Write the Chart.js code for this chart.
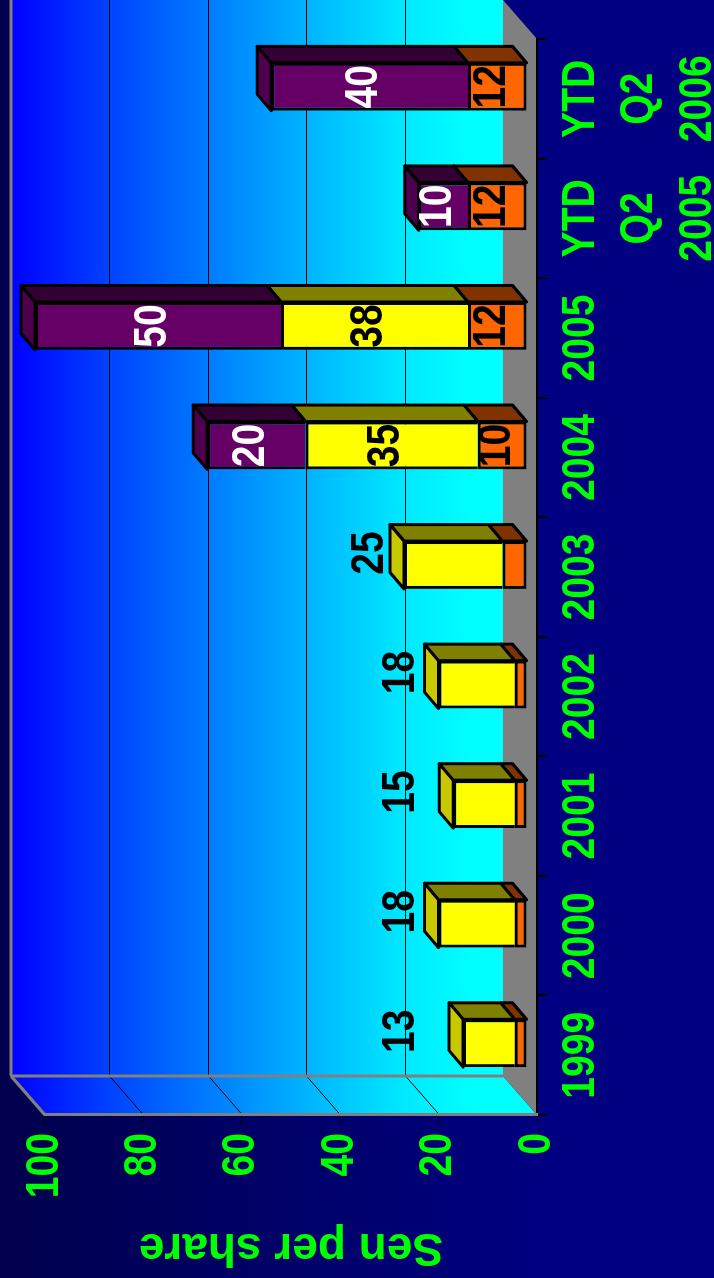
<!DOCTYPE html>
<html>
<head>
<meta charset="utf-8">
<script src="https://cdn.jsdelivr.net/npm/chart.js@4.4.1/dist/chart.umd.min.js"></script>
<style>
    html, body { margin: 0; padding: 0; overflow: hidden; }
    body { width: 714px; height: 1278px; background: #000070; position: relative; }
    /* the slide was turned on its side, so the chart is drawn flat and rotated */
    #chart {
        position: absolute; left: 0; top: 0;
        width: 1278px; height: 714px;
        transform-origin: 0 0;
        transform: translate(0, 1278px) rotate(-90deg);
    }
</style>
</head>
<body>
<canvas id="chart" width="1278" height="714"></canvas>
<script>
// Dividend, sen per share
const categories = ['1999', '2000', '2001', '2002', '2003', '2004', '2005',
    ['YTD', 'Q2', '2005'], ['YTD', 'Q2', '2006']];
const orangeValues = [2.5, 2.5, 2.5, 2.5, 5, 10, 12, 12, 12];
const yellowValues = [10.5, 15.5, 12.5, 15.5, 20, 35, 38, null, null];
const purpleValues = [null, null, null, null, null, 20, 50, 10, 40];
const yTicks = [0, 20, 40, 60, 80, 100];
const axisTitle = 'Sen per share';

// Totals of the early years sit above the bars, never lower than this value
const LABEL_FLOOR = 25;

const FONT = '"Liberation Sans", Arial, sans-serif';
// the slide used a condensed face for numbers; squeeze labels to match
const NARROW = 0.85;

// 3D look: offsets from the front plane
const DEPTH = { du: 39, dv: -34 };       // back wall
const BAR_OFF = { du: 12, dv: -10 };     // front face of the bars
const BAR_DEPTH = { du: 16.5, dv: -14 }; // bar thickness

// face colours: [front, right side, top]
const faceColors = [
    ['#FF6600', '#803300', '#B34700'],
    ['#FFFF00', '#808000', '#C8C800'],
    ['#660066', '#330033', '#4D004D']
];

function poly(ctx, pts, fill) {
    ctx.beginPath();
    ctx.moveTo(pts[0][0], pts[0][1]);
    for (let k = 1; k < pts.length; k++) ctx.lineTo(pts[k][0], pts[k][1]);
    ctx.closePath();
    if (fill) {
        ctx.fillStyle = fill;
        ctx.fill();
    }
}

function line(ctx, x1, y1, x2, y2) {
    ctx.beginPath();
    ctx.moveTo(x1, y1);
    ctx.lineTo(x2, y2);
    ctx.stroke();
}

// Background, walls and floor
const wallPlugin = {
    id: 'walls',
    beforeDraw(chart) {
        const { ctx, chartArea: a, scales } = chart;
        ctx.save();

        const bg = ctx.createLinearGradient(0, 0, 0, chart.height);
        bg.addColorStop(0, '#00004D');
        bg.addColorStop(0.75, '#000080');
        bg.addColorStop(1, '#000080');
        ctx.fillStyle = bg;
        ctx.fillRect(0, 0, chart.width, chart.height);

        const bL = a.left + DEPTH.du, bR = a.right + DEPTH.du;
        const bT = a.top + DEPTH.dv, bB = a.bottom + DEPTH.dv;

        const wg = ctx.createLinearGradient(0, bT, 0, bT + 460);
        wg.addColorStop(0, '#0000FF');
        wg.addColorStop(0.22, '#0044FF');
        wg.addColorStop(0.63, '#00B0FF');
        wg.addColorStop(0.85, '#00E8FF');
        wg.addColorStop(1, '#00FFFF');

        // back wall and side wall
        ctx.fillStyle = wg;
        ctx.fillRect(bL, bT, bR - bL, bB - bT);
        poly(ctx, [[a.left, a.top], [bL, bT], [bL, bB], [a.left, a.bottom]], wg);
        // floor
        poly(ctx, [[a.left, a.bottom], [bL, bB], [bR, bB], [a.right, a.bottom]], '#808080');

        // gridlines on both walls
        ctx.strokeStyle = '#000000';
        ctx.lineWidth = 1;
        yTicks.forEach(t => {
            if (t === 0 || t === 100) return;
            const v = Math.round(scales.y.getPixelForValue(t)) + 0.5;
            line(ctx, a.left, v, bL, v + DEPTH.dv);
            line(ctx, bL, v + DEPTH.dv, bR, v + DEPTH.dv);
        });

        // wall edges
        ctx.strokeStyle = '#808080';
        ctx.lineWidth = 3;
        line(ctx, bL, bT, bR + 5, bT);
        line(ctx, bL, bT, bL, bB);
        line(ctx, a.left, a.top, bL, bT);
        ctx.restore();
    }
};

// Side and top faces of the bars; bars are pushed back into the box
const barFacePlugin = {
    id: 'barFaces',
    beforeDatasetsDraw(chart) {
        const ctx = chart.ctx;
        ctx.save();
        ctx.translate(BAR_OFF.du, BAR_OFF.dv);
        ctx.strokeStyle = '#000000';
        ctx.lineWidth = 3;
        ctx.lineJoin = 'round';
        categories.forEach((c, i) => {
            let top = null;
            chart.data.datasets.forEach((ds, d) => {
                if (ds.data[i] == null) return;
                const bar = chart.getDatasetMeta(d).data[i];
                const { x, y, base, width } = bar.getProps(['x', 'y', 'base', 'width'], true);
                const r = x + width / 2;
                poly(ctx, [[r, y], [r + BAR_DEPTH.du, y + BAR_DEPTH.dv],
                    [r + BAR_DEPTH.du, base + BAR_DEPTH.dv], [r, base]], faceColors[d][1]);
                ctx.stroke();
                top = { d, x, y, width };
            });
            if (top) {
                const l = top.x - top.width / 2, r = top.x + top.width / 2;
                poly(ctx, [[l, top.y], [l + BAR_DEPTH.du, top.y + BAR_DEPTH.dv],
                    [r + BAR_DEPTH.du, top.y + BAR_DEPTH.dv], [r, top.y]], faceColors[top.d][2]);
                ctx.stroke();
            }
        });
    },
    afterDatasetsDraw(chart) {
        const ctx = chart.ctx;
        ctx.restore();

        // value labels
        ctx.save();
        ctx.font = 'bold 46px ' + FONT;
        ctx.textAlign = 'center';
        const floorV = chart.scales.y.getPixelForValue(LABEL_FLOOR);
        categories.forEach((c, i) => {
            if (purpleValues[i] == null) {
                const total = orangeValues[i] + (yellowValues[i] || 0);
                const d = yellowValues[i] == null ? 0 : 1;
                const bar = chart.getDatasetMeta(d).data[i];
                const backTop = bar.y + BAR_OFF.dv + BAR_DEPTH.dv;
                ctx.fillStyle = '#000000';
                ctx.textBaseline = 'alphabetic';
                ctx.fillText(String(total), bar.x + BAR_OFF.du + 12, Math.min(backTop - 7, floorV));
            } else {
                chart.data.datasets.forEach((ds, d) => {
                    if (ds.data[i] == null) return;
                    const bar = chart.getDatasetMeta(d).data[i];
                    ctx.fillStyle = d === 2 ? '#FFFFFF' : '#000000';
                    ctx.textBaseline = 'middle';
                    ctx.fillText(String(ds.data[i]), bar.x + BAR_OFF.du,
                        (bar.y + bar.base) / 2 + BAR_OFF.dv - 5);
                });
            }
        });
        ctx.restore();
    }
};

const tickFont = { family: FONT, size: 46, weight: 'bold', lineHeight: 1.27 };

const ctx = document.getElementById('chart').getContext('2d');

// squeeze numbers and category labels, but leave the axis title alone
const baseFillText = ctx.fillText;
ctx.fillText = function (text, x, y, maxWidth) {
    if (maxWidth !== undefined || text === axisTitle) {
        return baseFillText.call(this, text, x, y, maxWidth);
    }
    return baseFillText.call(this, text, x, y, this.measureText(text).width * NARROW);
};

const chart = new Chart(ctx, {
    type: 'bar',
    data: {
        labels: categories,
        datasets: [
            { label: 'Orange', data: orangeValues, backgroundColor: faceColors[0][0],
              borderColor: '#000000', borderWidth: 3, borderSkipped: false },
            { label: 'Yellow', data: yellowValues, backgroundColor: faceColors[1][0],
              borderColor: '#000000', borderWidth: 3, borderSkipped: 'start' },
            { label: 'Purple', data: purpleValues, backgroundColor: faceColors[2][0],
              borderColor: '#000000', borderWidth: 3, borderSkipped: 'start' }
        ]
    },
    options: {
        responsive: false,
        devicePixelRatio: 1,
        animation: false,
        barPercentage: 0.4,
        categoryPercentage: 1.0,
        layout: { padding: { top: 45, right: 39, left: 0, bottom: 0 } },
        plugins: {
            legend: { display: false },
            tooltip: { enabled: false }
        },
        scales: {
            x: {
                stacked: true,
                offset: true,
                grid: { drawOnChartArea: false, tickLength: 10, color: '#000000', lineWidth: 2 },
                border: { display: true, color: '#000000', width: 2 },
                ticks: { color: '#00FF00', font: tickFont, padding: 5, maxRotation: 0, autoSkip: false },
                afterFit(s) { s.height = 177; }
            },
            y: {
                stacked: true,
                min: 0,
                max: 100,
                grid: { drawOnChartArea: false, tickLength: 10, color: '#000000', lineWidth: 1 },
                border: { display: true, color: '#808080', width: 3 },
                ticks: { stepSize: 20, color: '#00FF00', font: tickFont, padding: 8 },
                title: {
                    display: true,
                    text: axisTitle,
                    color: '#00FF00',
                    font: { family: FONT, size: 46, weight: 'bold', lineHeight: 1.2 },
                    padding: { top: 4, bottom: 0 }
                },
                afterFit(s) { s.width = 163; }
            }
        }
    },
    plugins: [wallPlugin, barFacePlugin]
});
</script>
</body>
</html>
